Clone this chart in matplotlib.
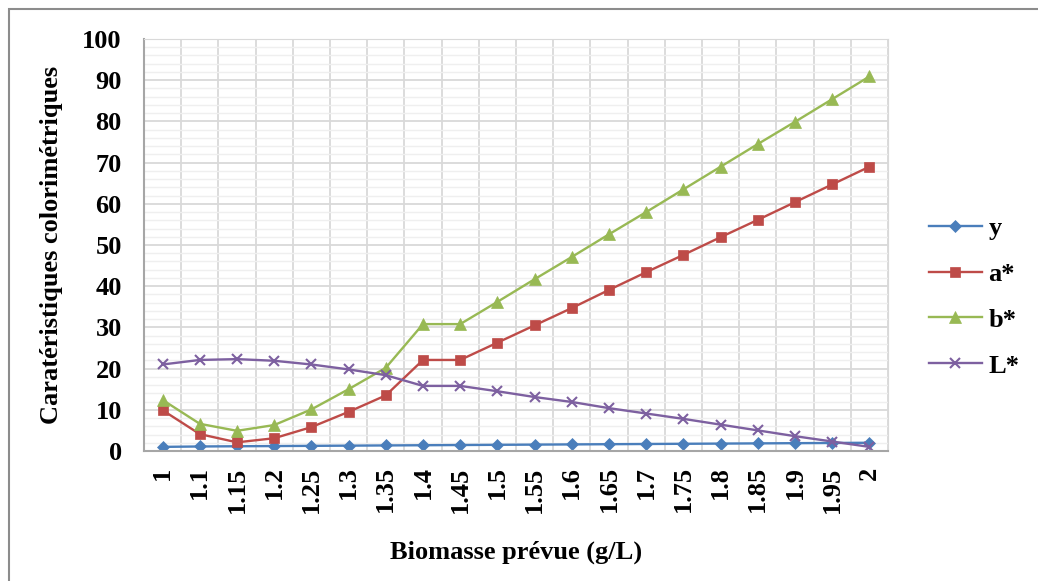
import numpy as np
import matplotlib.pyplot as plt
from matplotlib.ticker import MultipleLocator
from matplotlib.patches import Rectangle

plt.rcParams['font.family'] = ['Liberation Serif', 'DejaVu Serif']
plt.rcParams['font.weight'] = 'bold'

categories = ['1', '1.1', '1.15', '1.2', '1.25', '1.3', '1.35', '1.4', '1.45', '1.5',
              '1.55', '1.6', '1.65', '1.7', '1.75', '1.8', '1.85', '1.9', '1.95', '2']
y_vals = [1.0, 1.1, 1.15, 1.2, 1.25, 1.3, 1.35, 1.4, 1.45, 1.5,
          1.55, 1.6, 1.65, 1.7, 1.75, 1.8, 1.85, 1.9, 1.95, 2.0]
a_vals = [9.9, 4.1, 2.1, 3.1, 5.8, 9.5, 13.5, 22.1, 22.1, 26.3,
          30.5, 34.7, 39.1, 43.4, 47.6, 51.9, 56.1, 60.4, 64.7, 69.0]
b_vals = [12.4, 6.6, 4.9, 6.3, 10.1, 15.0, 20.2, 30.8, 30.8, 36.2,
          41.7, 47.1, 52.6, 58.0, 63.5, 69.0, 74.5, 79.9, 85.4, 90.9]
L_vals = [21.0, 22.1, 22.3, 21.9, 21.0, 19.8, 18.4, 15.8, 15.8, 14.5,
          13.1, 11.9, 10.4, 9.1, 7.8, 6.4, 5.0, 3.6, 2.3, 1.0]

fig = plt.figure(figsize=(10.38, 5.81), dpi=100)
fig.patches.append(Rectangle((9 / 1038, -0.1), 1.2, (581 - 9) / 581 + 0.1,
                             transform=fig.transFigure, fill=False,
                             edgecolor='#8c8c8c', linewidth=1.5))
ax = fig.add_axes([144 / 1038, 1 - 451 / 581, 744 / 1038, 412 / 581])

x = np.arange(len(categories))
series = [('y', y_vals, '#4a7ebb', 'D', 6),
          ('a*', a_vals, '#be4b48', 's', 7),
          ('b*', b_vals, '#98b954', '^', 8),
          ('L*', L_vals, '#7d60a0', 'x', 7)]
for name, vals, col, mk, ms in series:
    ax.plot(x, vals, color=col, marker=mk, markersize=ms, linewidth=1.7,
            markeredgewidth=1.5 if mk == 'x' else 0.5, label=name)

ax.set_xlim(-0.5, len(categories) - 0.5)
ax.set_ylim(0, 100)
ax.yaxis.set_major_locator(MultipleLocator(10))
ax.yaxis.set_minor_locator(MultipleLocator(2))
ax.set_xticks(x)
ax.set_xticklabels(categories, rotation=90, fontsize=19, fontweight='bold')
ax.set_xticks(np.arange(-0.5, len(categories), 1), minor=True)
ax.tick_params(axis='y', labelsize=19, length=0, pad=16, which='both')
ax.tick_params(axis='x', length=0, pad=11, which='both')
ax.grid(which='major', axis='y', color='#d9d9d9', linewidth=1.3)
ax.grid(which='minor', axis='y', color='#efefef', linewidth=1)
ax.grid(which='minor', axis='x', color='#d9d9d9', linewidth=1.3)
ax.set_axisbelow(True)
for s in ['top', 'right']:
    ax.spines[s].set_color('#d9d9d9')
for s in ['left', 'bottom']:
    ax.spines[s].set_color('#a6a6a6')
    ax.spines[s].set_linewidth(1.5)

ax.set_ylabel('Caratéristiques colorimétriques', fontsize=19, fontweight='bold')
ax.yaxis.set_label_coords((63 - 144) / 744, 0.5)
ax.set_xlabel('Biomasse prévue (g/L)', fontsize=19, fontweight='bold')
ax.xaxis.set_label_coords(0.5, (451 - 541) / 412)

fig.legend(loc='center left', bbox_to_anchor=(929 / 1038, 1 - 297 / 581), frameon=False,
           prop={'size': 19, 'weight': 'bold'}, handlelength=2.0, handletextpad=0.25,
           labelspacing=0.85, borderpad=0, borderaxespad=0)

fig.savefig('out.png', dpi=100)
